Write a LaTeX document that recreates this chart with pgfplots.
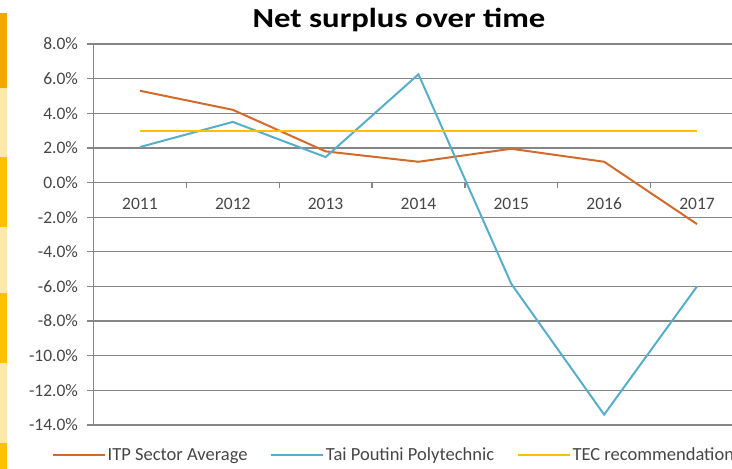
\documentclass[border=0pt]{standalone}
\usepackage{pgfplots}
\pgfplotsset{compat=1.18}
\usepackage{fontspec}
\setmainfont{Carlito}
\definecolor{orangeL}{RGB}{210,106,44}
\definecolor{blueL}{RGB}{86,174,203}
\definecolor{yellowL}{RGB}{255,192,0}
\definecolor{gridc}{RGB}{134,134,134}
\definecolor{paleY}{RGB}{255,233,170}
\definecolor{stripO}{RGB}{247,166,0}
\definecolor{labc}{RGB}{70,70,70}
\begin{document}
\begin{tikzpicture}[x=1pt,y=1pt]
\useasboundingbox (0,0) rectangle (732,469);
% decorative strip on the left edge
\fill[stripO] (0,469-88) rectangle (7,469-13);
\fill[paleY] (0,469-157) rectangle (7,469-88);
\fill[yellowL] (0,469-227) rectangle (7,469-157);
\fill[paleY] (0,469-293) rectangle (7,469-227);
\fill[yellowL] (0,469-363) rectangle (7,469-293);
\fill[paleY] (0,469-443) rectangle (7,469-363);
\fill[yellowL] (0,0) rectangle (7,469-443);
\node[anchor=base, inner sep=0pt] at (399,469-28) {\scalebox{1.19}[1.0]{\fontsize{27.5}{30}\selectfont\bfseries Net surplus over time}};
\begin{axis}[
  at={(93.5pt,44pt)}, anchor=south west,
  scale only axis, width=638.5pt, height=381pt,
  xmin=0.5, xmax=7.377, ymin=-14, ymax=8,
  axis y line*=left, axis x line*=middle,
  axis line style={gridc, line width=1.3pt},
  ymajorgrids, grid style={gridc, line width=1.3pt},
  ytick={-14,-12,...,8},
  yticklabels={-14.0\%,-12.0\%,-10.0\%,-8.0\%,-6.0\%,-4.0\%,-2.0\%,0.0\%,2.0\%,4.0\%,6.0\%,8.0\%},
  xtick={1,...,7},
  xticklabels={2011,2012,2013,2014,2015,2016,2017},
  tick align=outside,
  major tick length=6pt,
  ytick style={gridc, line width=1.3pt},
  xtick style={draw=none},
  yticklabel style={font=\fontsize{17.5}{19}\selectfont, text=labc, xshift=-6pt},
  xticklabel style={font=\fontsize{17.5}{19}\selectfont, text=labc, anchor=base, yshift=-20.6pt},
  legend columns=3,
  legend style={at={(rel axis cs:-0.065,-0.0787)}, anchor=west, draw=none, fill=none, inner sep=0pt,
    font=\fontsize{18.5}{20}\selectfont, text=labc,
    nodes={inner sep=1.5pt},
    /tikz/every even column/.append style={column sep=21.5pt}},
  legend image code/.code={\draw[#1] (0pt,0pt) -- (52pt,0pt);},
  clip=false,
]
\addplot[orangeL, line width=2pt] coordinates {(1,5.3) (2,4.2) (3,1.8) (4,1.2) (5,1.95) (6,1.2) (7,-2.4)};
\addlegendentry{ITP Sector Average}
\addplot[blueL, line width=2pt] coordinates {(1,2.05) (2,3.5) (3,1.47) (4,6.25) (5,-5.85) (6,-13.4) (7,-6.0)};
\addlegendentry{Tai Poutini Polytechnic}
\addplot[yellowL, line width=2pt] coordinates {(1,3.0) (2,3.0) (3,3.0) (4,3.0) (5,3.0) (6,3.0) (7,3.0)};
\addlegendentry{TEC recommendation}
\pgfplotsinvokeforeach{1.5,2.5,3.5,4.5,5.5,6.5}{
  \draw[gridc, line width=1.3pt] (axis cs:#1,0) -- ([yshift=-5pt]axis cs:#1,0);
}
\end{axis}
\end{tikzpicture}
\end{document}
